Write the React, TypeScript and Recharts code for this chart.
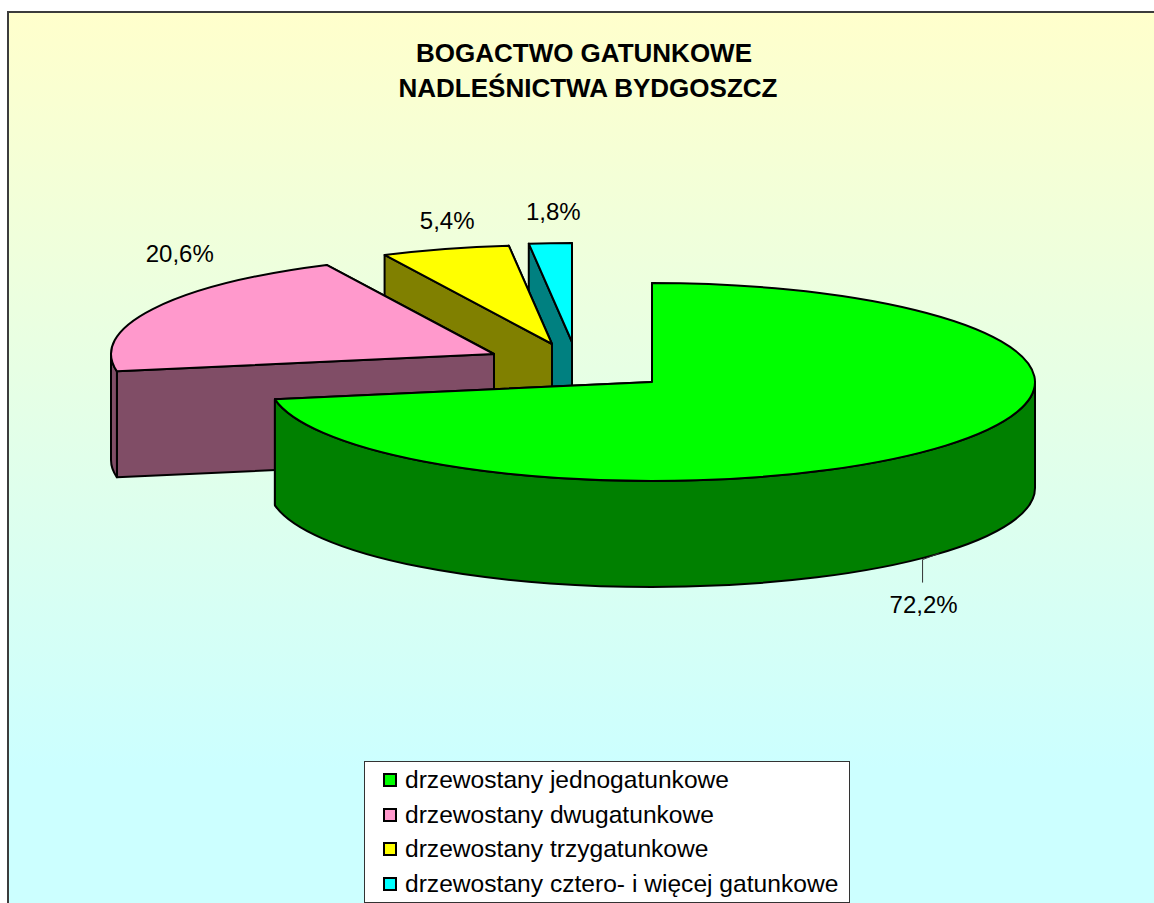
import React from "react";
import { PieChart, Pie, Legend } from "recharts";

const categories = [
  "drzewostany jednogatunkowe",
  "drzewostany dwugatunkowe",
  "drzewostany trzygatunkowe",
  "drzewostany cztero- i więcej gatunkowe",
];
const shares = [72.2, 20.6, 5.4, 1.8];
const topColors = ["#00FF00", "#FF99CC", "#FFFF00", "#00FFFF"];
const wallColors = ["#008000", "#804D66", "#808000", "#008080"];
const titleLines = ["BOGACTWO GATUNKOWE", "NADLEŚNICTWA BYDGOSZCZ"];

// Pull-out of every slice from the shared pie centre, and label nudges from the rim.
const explode = [[0, 0], [-158, -28], [-100, -38], [-80, -40]];
const labelNudge = [[-22, 167], [27, -47], [2, -20], [3, -23]];

const FONT = '"Liberation Sans", Arial, sans-serif';
const TILT = 99 / 383;
const DEPTH = 106;
const STROKE = "#000";

// Reversed so the far slices paint first and the big slice paints over them;
// the pie then runs counter-clockwise, which gives the original clockwise layout.
const rows = categories
  .map((name, idx) => ({ name, value: shares[idx], fill: topColors[idx], idx }))
  .reverse();

const rad = (d: number) => (d * Math.PI) / 180;

function Slice3D(props: any) {
  const { cx, cy, outerRadius, startAngle, endAngle, payload } = props;
  const idx: number = payload.idx;
  const ox = cx + explode[idx][0];
  const oy = cy + explode[idx][1];
  const rx = outerRadius;
  const ry = outerRadius * TILT;
  const a0 = Math.min(startAngle, endAngle);
  const a1 = Math.max(startAngle, endAngle);
  const pt = (a: number, drop = 0): [number, number] => [
    ox + rx * Math.cos(rad(a)),
    oy - ry * Math.sin(rad(a)) + drop,
  ];
  const face = (a: number) => {
    const p = pt(a);
    const q = pt(a, DEPTH);
    return `M${ox},${oy}L${p[0]},${p[1]}L${q[0]},${q[1]}L${ox},${oy + DEPTH}Z`;
  };
  const wall = wallColors[idx];
  const large = a1 - a0 > 180 ? 1 : 0;
  const p0 = pt(a0);
  const p1 = pt(a1);
  const top = `M${ox},${oy}L${p0[0]},${p0[1]}A${rx},${ry} 0 ${large} 0 ${p1[0]},${p1[1]}Z`;

  const frontStart = Math.max(a0, 180);
  const frontEnd = Math.min(a1, 360);
  let outer = null;
  if (frontEnd > frontStart) {
    const s = pt(frontStart);
    const e = pt(frontEnd);
    const sd = pt(frontStart, DEPTH);
    const ed = pt(frontEnd, DEPTH);
    const big = frontEnd - frontStart > 180 ? 1 : 0;
    outer = (
      <path
        d={`M${s[0]},${s[1]}A${rx},${ry} 0 ${big} 0 ${e[0]},${e[1]}L${ed[0]},${ed[1]}A${rx},${ry} 0 ${big} 1 ${sd[0]},${sd[1]}Z`}
        fill={wall}
        stroke={STROKE}
        strokeWidth={2}
        strokeLinejoin="round"
      />
    );
  }
  return (
    <g>
      <path d={face(a0)} fill={wall} stroke={STROKE} strokeWidth={2} strokeLinejoin="round" />
      <path d={face(a1)} fill={wall} stroke={STROKE} strokeWidth={2} strokeLinejoin="round" />
      {outer}
      <path d={top} fill={topColors[idx]} stroke={STROKE} strokeWidth={2} strokeLinejoin="round" />
    </g>
  );
}

function SliceLabel(props: any) {
  const { cx, cy, outerRadius, midAngle, value, payload } = props;
  const idx: number = payload.idx;
  const x = cx + explode[idx][0] + outerRadius * Math.cos(rad(midAngle)) + labelNudge[idx][0];
  const y = cy + explode[idx][1] - outerRadius * TILT * Math.sin(rad(midAngle)) + labelNudge[idx][1];
  return (
    <g>
      {idx === 0 && (
        <polyline
          points={`${x + 15},${y - 59} ${x - 1},${y - 53} ${x - 1},${y - 30}`}
          fill="none"
          stroke="#333"
          strokeWidth={1}
        />
      )}
      <text x={x} y={y} textAnchor="middle" fontFamily={FONT} fontSize={24} fill="#000">
        {`${Number(value).toFixed(1).replace(".", ",")}%`}
      </text>
    </g>
  );
}

function LegendBox({ payload }: any) {
  const items = [...(payload || [])].sort(
    (a: any, b: any) => categories.indexOf(a.value) - categories.indexOf(b.value)
  );
  return (
    <div
      style={{
        boxSizing: "border-box",
        width: 486,
        height: 142,
        background: "#fff",
        border: "1px solid #333",
        paddingTop: 1,
        fontFamily: FONT,
        fontSize: 24.6,
        color: "#000",
      }}
    >
      {items.map((it: any) => (
        <div key={it.value} style={{ display: "flex", alignItems: "center", height: 34.5, paddingLeft: 18, whiteSpace: "nowrap" }}>
          <span
            style={{
              boxSizing: "border-box",
              display: "inline-block",
              width: 14,
              height: 14,
              background: topColors[categories.indexOf(it.value)],
              border: "2px solid #000",
              marginRight: 8,
            }}
          />
          {it.value}
        </div>
      ))}
    </div>
  );
}

export default function App() {
  return (
    <div style={{ position: "fixed", left: 0, top: 0, width: 1154, height: 903, overflow: "hidden", background: "#fff" }}>
      <div
        style={{
          position: "absolute",
          left: 7,
          top: 11,
          width: 1160,
          height: 900,
          boxSizing: "border-box",
          borderLeft: "2px solid #3c3c3c",
          borderTop: "2px solid #3c3c3c",
          background: "linear-gradient(to bottom, #FFFFCC 0%, #CCFFFF 84%, #CCFFFF 100%)",
        }}
      />
      <div style={{ position: "absolute", left: 0, top: 0 }}>
        <PieChart width={1154} height={903} margin={{ top: 0, right: 0, bottom: 0, left: 0 }}>
          <text x={584} y={62} textAnchor="middle" fontFamily={FONT} fontSize={26} fontWeight="bold" fill="#000">
            {titleLines[0]}
          </text>
          <text x={588} y={97} textAnchor="middle" fontFamily={FONT} fontSize={26} fontWeight="bold" fill="#000">
            {titleLines[1]}
          </text>
          <Pie
            data={rows}
            dataKey="value"
            nameKey="name"
            cx={652}
            cy={382}
            innerRadius={0}
            outerRadius={383}
            startAngle={90}
            endAngle={450}
            stroke="none"
            shape={Slice3D}
            label={SliceLabel}
            labelLine={false}
            isAnimationActive={false}
          />
          <Legend
            content={LegendBox}
            wrapperStyle={{ position: "absolute", left: 364, top: 761, width: 486, height: 142, bottom: "auto", right: "auto" }}
          />
        </PieChart>
      </div>
    </div>
  );
}
